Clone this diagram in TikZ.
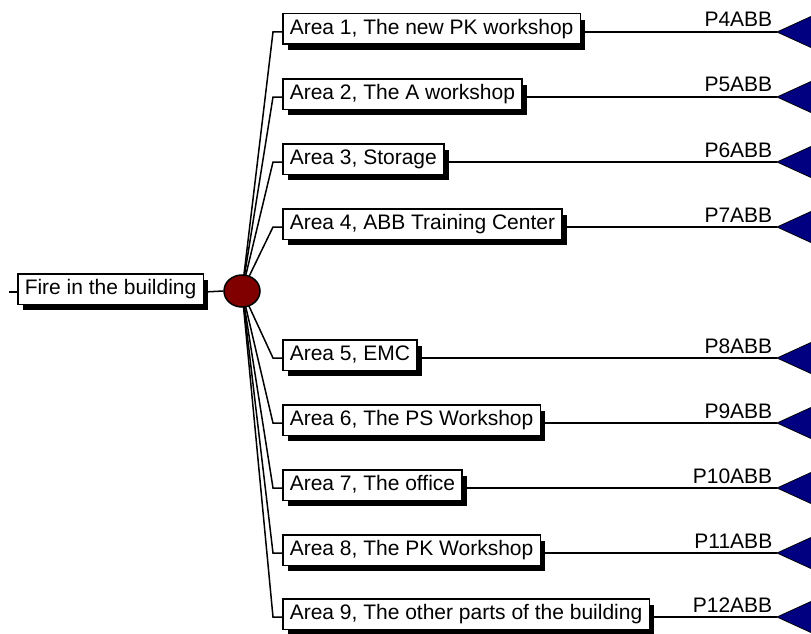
\documentclass[tikz,border=0pt]{standalone}
\usepackage{fontspec}
\setmainfont{Liberation Sans}
\usetikzlibrary{shadows,shapes.geometric}
\definecolor{eventnavy}{HTML}{000080}
\definecolor{gatered}{HTML}{800000}
\begin{document}
\begin{tikzpicture}[x=1pt,y=-1pt,
  line width=1.5pt,
  evbox/.style={draw=black, fill=white, anchor=west,
    font=\fontsize{21pt}{25pt}\selectfont,
    text height=15.5pt, text depth=4.5pt,
    inner xsep=7pt, inner ysep=5.25pt,
    drop shadow={shadow xshift=5pt, shadow yshift=-6pt, opacity=1, fill=black}},
  plabel/.style={anchor=base east, inner sep=0pt,
    font=\fontsize{21pt}{25pt}\selectfont},
  gate/.style={ellipse, draw=black, fill=gatered, minimum width=36pt, minimum height=32pt, inner sep=0pt},
  tri/.style={fill=eventnavy, draw=black, line width=0.8pt}
]
\useasboundingbox (0,0) rectangle (811,634);
\clip (0,0) rectangle (811,634);

% centre of the OR gate, where all branch lines meet
\coordinate (gc) at (242,291);

% branches: index / row / text / label
\foreach \i/\y/\txt/\lab in {
  1/32/{Area 1, The new PK workshop}/P4ABB,
  2/97/{Area 2, The A workshop}/P5ABB,
  3/162/{Area 3, Storage}/P6ABB,
  4/227/{Area 4, ABB Training Center}/P7ABB,
  5/358/{Area 5, EMC}/P8ABB,
  6/423/{Area 6, The PS Workshop}/P9ABB,
  7/488/{Area 7, The office}/P10ABB,
  8/553/{Area 8, The PK Workshop}/P11ABB,
  9/617/{Area 9, The other parts of the building}/P12ABB}{
  \coordinate (k\i) at (273,\y);
  \coordinate (t\i) at (777,\y);
  \draw (gc) -- (k\i) -- (282,\y);
  \node[evbox] (a\i) at (282,\y-3) {\txt};
  \draw ([yshift=-3pt]a\i.east) -- (t\i);
  \node[plabel] (p\i) at (773,\y-5) {\lab};
  \filldraw[tri] (t\i) -- ++(46,-21) -- ++(0,42) -- cycle;
}

% top event and OR gate
\coordinate (lead) at (9,292);
\node[evbox] (top) at (17,289) {Fire in the building};
\node[gate] (g) at (gc) {};
\draw (lead) -- ([yshift=-3pt]top.west);
\draw ([yshift=-3pt]top.east) -- (g.west);
\end{tikzpicture}
\end{document}
